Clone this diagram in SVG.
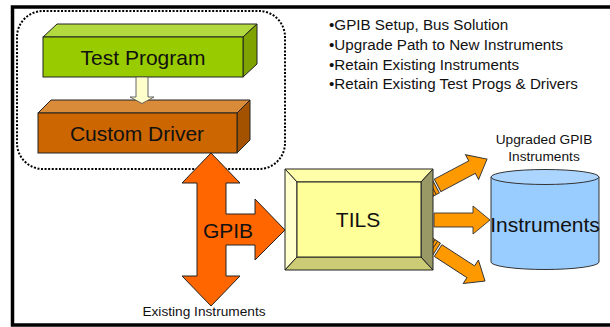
<svg xmlns="http://www.w3.org/2000/svg" width="610" height="327" viewBox="0 0 610 327">
<style>
text{font-family:"Liberation Sans",Arial,sans-serif;fill:#111}
.big{font-size:21px;text-anchor:middle}
.sm{font-size:13.7px;text-anchor:middle}
.bul{font-size:15.2px}
.ol{stroke:#222;stroke-width:1;stroke-linejoin:miter}
.oa{fill:#FF9900;stroke:#333;stroke-width:0.9}
</style>
<defs>
<g id="outArrow">
<polygon class="oa" points="12,-7 51,-7 51,-14 68,0 51,14 51,7 12,7"/>
<rect x="0" y="-7.5" width="10" height="15" class="oa"/>
<line x1="3.5" y1="-7.5" x2="3.5" y2="7.5" stroke="#333" stroke-width="0.9"/>
<line x1="6.5" y1="-7.5" x2="6.5" y2="7.5" stroke="#333" stroke-width="0.9"/>
</g>
</defs>
<rect width="610" height="327" fill="#fff"/>
<path d="M610,7 H12.5 V325 H610" fill="none" stroke="#000" stroke-width="3.5"/>

<g id="group-box">
<rect x="17" y="11" width="268" height="158" rx="26" ry="26" fill="none" stroke="#000" stroke-width="2" stroke-dasharray="2 1.6"/>
</g>

<g id="test-program">
<polygon class="ol" points="43,37 57,24 257,24 243,37" fill="#B2D93F"/>
<polygon class="ol" points="243,37 257,24 257,64 243,77" fill="#7FA300"/>
<rect class="ol" x="43" y="37" width="200" height="40" fill="#99CC00"/>
<text class="big" x="143" y="65">Test Program</text>
</g>

<g id="custom-driver">
<polygon class="ol" points="38,113 51,100 250,100 237,113" fill="#D98B3A"/>
<polygon class="ol" points="237,113 250,100 250,140 237,153" fill="#A35200"/>
<rect class="ol" x="38" y="113" width="199" height="40" fill="#CC6600"/>
<text class="big" x="137" y="141">Custom Driver</text>
</g>

<g id="connectors">
<polygon points="136,77 148,77 148,97 154,97 142,103.5 130,97 136,97" fill="#FFFFCC" stroke="#555" stroke-width="0.9"/>
<use href="#outArrow" transform="translate(427,191) rotate(-28)"/>
<use href="#outArrow" transform="translate(422,220)"/>
<use href="#outArrow" transform="translate(428,244) rotate(33)"/>
</g>

<g id="gpib">
<polygon class="ol" fill="#FF6600" points="211,153 240,183 226,183 226,214 255,214 255,199 285,230 255,260 255,245 226,245 226,276 240,276 211,306 182,276 197,276 197,183 182,183"/>
<text x="228" y="238" font-size="21" text-anchor="middle">GPIB</text>
</g>

<g id="existing-label">
<text class="sm" x="204" y="316">Existing Instruments</text>
</g>

<g id="tils">
<polygon class="ol" points="285,169 433,169 421,182 297,182" fill="#FFFFAA"/>
<polygon class="ol" points="285,169 297,182 297,257 285,270" fill="#FFFFCC"/>
<polygon class="ol" points="285,270 297,257 421,257 433,270" fill="#CCCC77"/>
<polygon class="ol" points="433,169 421,182 421,257 433,270" fill="#999966"/>
<rect class="ol" x="297" y="182" width="124" height="75" fill="#FFFF99"/>
<text class="big" x="358" y="227">TILS</text>
</g>

<g id="instruments">
<path d="M491,177 V262 A54,7.5 0 0 0 599,262 V177 Z" fill="#99CCFF" stroke="#333" stroke-width="1"/>
<ellipse cx="545" cy="177" rx="54" ry="7.5" fill="#ABD5FF" stroke="#333" stroke-width="1"/>
<text class="big" x="545" y="232">Instruments</text>
</g>

<g id="upgraded-label">
<text class="sm" x="544" y="144">Upgraded GPIB</text>
<text class="sm" x="544" y="161">Instruments</text>
</g>

<g id="bullets">
<text class="bul" x="329" y="30">•GPIB Setup, Bus Solution</text>
<text class="bul" x="329" y="50">•Upgrade Path to New Instruments</text>
<text class="bul" x="329" y="69.5">•Retain Existing Instruments</text>
<text class="bul" x="329" y="89">•Retain Existing Test Progs &amp; Drivers</text>
</g>
</svg>
